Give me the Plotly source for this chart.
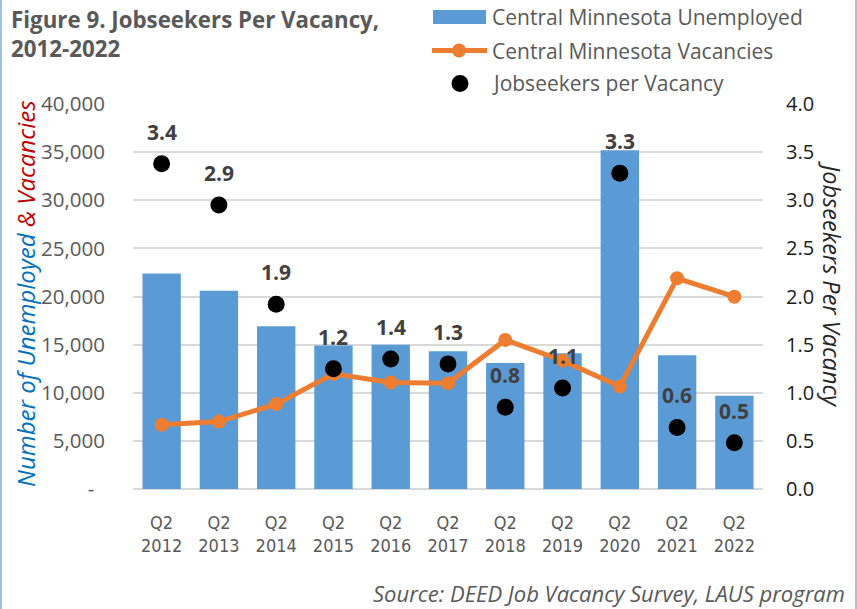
import plotly.graph_objects as go

# ---------------- data ----------------
categories = ["Q2<br>2012", "Q2<br>2013", "Q2<br>2014", "Q2<br>2015", "Q2<br>2016", "Q2<br>2017",
              "Q2<br>2018", "Q2<br>2019", "Q2<br>2020", "Q2<br>2021", "Q2<br>2022"]
unemployed = [22400, 20600, 16900, 14900, 15000, 14300, 13100, 14100, 35200, 13900, 9700]
vacancies = [6670, 7010, 8820, 11960, 11060, 11000, 15490, 13340, 10640, 21890, 19980]
jobseekers_per_vacancy = [3.38, 2.95, 1.92, 1.25, 1.35, 1.30, 0.85, 1.05, 3.28, 0.64, 0.48]
ratio_labels = ["3.4", "2.9", "1.9", "1.2", "1.4", "1.3", "0.8", "1.1", "3.3", "0.6", "0.5"]

left_tickvals = [0, 5000, 10000, 15000, 20000, 25000, 30000, 35000, 40000]
left_ticktext = ["-\u00a0\u00a0", "5,000", "10,000", "15,000", "20,000", "25,000", "30,000", "35,000", "40,000"]
right_tickvals = [0, 0.5, 1.0, 1.5, 2.0, 2.5, 3.0, 3.5, 4.0]
right_ticktext = ["0.0", "0.5", "1.0", "1.5", "2.0", "2.5", "3.0", "3.5", "4.0"]

legend_names = ["Central Minnesota Unemployed", "Central Minnesota Vacancies", "Jobseekers per Vacancy"]

# ---------------- layout geometry ----------------
W, H = 857, 609
ML, MR, MT, MB = 133, 94, 104, 120
PW, PH = W - ML - MR, H - MT - MB

def px_x(px):
    return (px - ML) / PW

def px_y(py):
    return (H - MB - py) / PH

BLUE = "#5B9BD5"
ORANGE = "#ED7D31"
FONT = "Open Sans, Noto Sans, sans-serif"
GRAY = "#595959"

fig = go.Figure()

fig.add_trace(go.Bar(
    x=categories, y=unemployed, name=legend_names[0],
    marker=dict(color=BLUE, line=dict(width=0)), yaxis="y",
))
fig.add_trace(go.Scatter(
    x=categories, y=vacancies, name=legend_names[1], mode="lines+markers",
    line=dict(color=ORANGE, width=5), marker=dict(color=ORANGE, size=14), yaxis="y",
))
fig.add_trace(go.Scatter(
    x=categories, y=jobseekers_per_vacancy, name=legend_names[2], mode="markers",
    marker=dict(color="#000000", size=17), yaxis="y2",
))

annotations = []
for c, v, t in zip(categories, jobseekers_per_vacancy, ratio_labels):
    annotations.append(dict(
        x=c, y=v, xref="x", yref="y2", text="<b>%s</b>" % t, showarrow=False,
        yshift=32, xanchor="center", yanchor="middle",
        font=dict(family=FONT, size=21, color="#404040"),
    ))

# title
annotations.append(dict(
    x=px_x(9), y=px_y(2), xref="paper", yref="paper", xanchor="left", yanchor="top",
    align="left", showarrow=False,
    text="<b>Figure 9. Jobseekers Per Vacancy,<br>2012-2022</b>",
    font=dict(family=FONT, size=22.3, color=GRAY),
))
# left axis title
annotations.append(dict(
    x=px_x(25), y=px_y(294), xref="paper", yref="paper", xanchor="center", yanchor="middle",
    textangle=-90, showarrow=False,
    text="<i><span style='color:#0070C0'>Number of Unemployed</span> <span style='color:#C00000'>&amp; Vacancies</span></i>",
    font=dict(family=FONT, size=24),
))
# right axis title
annotations.append(dict(
    x=px_x(832), y=px_y(284), xref="paper", yref="paper", xanchor="center", yanchor="middle",
    textangle=90, showarrow=False, text="<i>Jobseekers Per Vacancy</i>",
    font=dict(family=FONT, size=23.5, color="#262626"),
))
# source
annotations.append(dict(
    x=px_x(847), y=px_y(593), xref="paper", yref="paper", xanchor="right", yanchor="middle",
    showarrow=False, text="<i>Source: DEED Job Vacancy Survey, LAUS program</i>",
    font=dict(family=FONT, size=22, color=GRAY),
))
# legend texts
for name, py in zip(legend_names, [17, 50.5, 83.5]):
    annotations.append(dict(
        x=px_x(490), y=px_y(py), xref="paper", yref="paper", xanchor="left", yanchor="middle",
        showarrow=False, text=name, font=dict(family=FONT, size=21, color=GRAY),
    ))

shapes = [
    dict(type="rect", xref="paper", yref="paper", x0=px_x(433), x1=px_x(486), y0=px_y(24), y1=px_y(10),
         fillcolor=BLUE, line=dict(width=0)),
    dict(type="line", xref="paper", yref="paper", x0=px_x(432), x1=px_x(487), y0=px_y(50.5), y1=px_y(50.5),
         line=dict(color=ORANGE, width=5)),
    dict(type="circle", xref="paper", yref="paper", x0=px_x(452), x1=px_x(466), y0=px_y(57.5), y1=px_y(43.5),
         fillcolor=ORANGE, line=dict(width=0)),
    dict(type="circle", xref="paper", yref="paper", x0=px_x(451.5), x1=px_x(468.5), y0=px_y(92), y1=px_y(75),
         fillcolor="#000000", line=dict(width=0)),
    dict(type="line", xref="paper", yref="paper", x0=px_x(1), x1=px_x(1), y0=px_y(0), y1=px_y(H),
         line=dict(color="#9DC3E6", width=2)),
    dict(type="line", xref="paper", yref="paper", x0=px_x(856), x1=px_x(856), y0=px_y(0), y1=px_y(H),
         line=dict(color="#9DC3E6", width=2)),
]

fig.update_layout(
    width=W, height=H,
    margin=dict(l=ML, r=MR, t=MT, b=MB, pad=0),
    paper_bgcolor="white", plot_bgcolor="white",
    showlegend=False, bargap=0.33,
    font=dict(family=FONT, color=GRAY),
    xaxis=dict(type="category", range=[-0.5, len(categories) - 0.5], showgrid=False, ticks="", showline=False,
               tickfont=dict(family="Liberation Sans Narrow, DejaVu Sans Condensed, Roboto Condensed, Roboto, sans-serif",
                             size=18, color=GRAY),
               ticklabelstandoff=21),
    yaxis=dict(range=[0, 40000], tickvals=left_tickvals, ticktext=left_ticktext,
               showgrid=True, gridcolor="#D9D9D9", gridwidth=1.5,
               zeroline=True, zerolinecolor="#D9D9D9", zerolinewidth=1.5,
               tickfont=dict(family=FONT, size=20.5, color=GRAY), ticklabelstandoff=27),
    yaxis2=dict(range=[0, 4], overlaying="y", side="right", tickvals=right_tickvals,
                ticktext=right_ticktext, showgrid=False, zeroline=False,
                tickfont=dict(family=FONT, size=20, color="#1a1a1a"), ticklabelstandoff=22),
    annotations=annotations, shapes=shapes,
)

fig.write_html("out.html", config={"displayModeBar": False},
               post_script="document.body.style.margin='0';document.body.style.padding='0';")
